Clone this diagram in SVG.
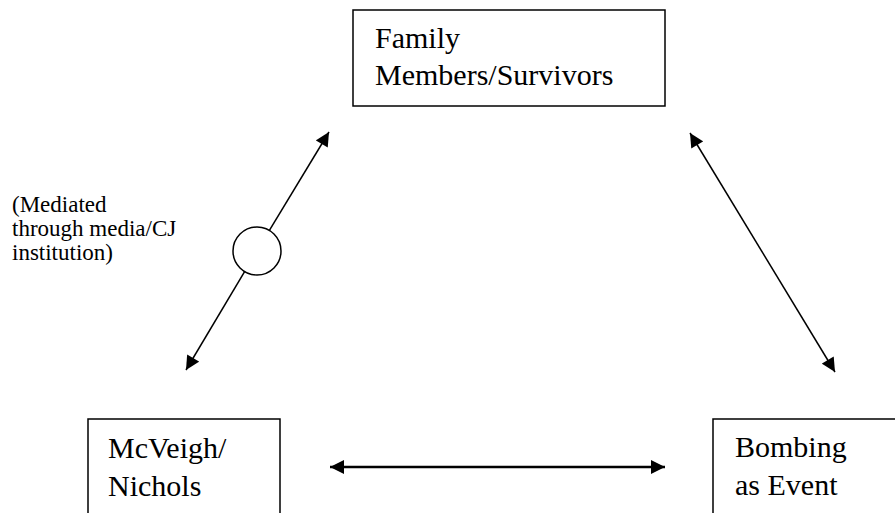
<svg xmlns="http://www.w3.org/2000/svg" width="895" height="513" viewBox="0 0 895 513">
<style>
.box{fill:#fff;stroke:#000;stroke-width:1.5}
.t{font-family:"Liberation Serif","Times New Roman",serif;font-size:30px;fill:#000}
.s{font-family:"Liberation Serif","Times New Roman",serif;font-size:23px;fill:#000}
.c{stroke:#000;stroke-width:1.5;fill:none}
</style>
<defs>
<marker id="ahb" viewBox="0 0 10 10" refX="10" refY="5" markerWidth="16" markerHeight="14" markerUnits="userSpaceOnUse" orient="auto-start-reverse">
<path d="M0,0 L10,5 L0,10 z" fill="#000"/>
</marker>
</defs>
<rect width="895" height="513" fill="#fff"/>
<g id="node-family">
<rect class="box" x="353" y="10" width="312" height="96"/>
<text class="t" x="375" y="48">Family</text>
<text class="t" x="375" y="85">Members/Survivors</text>
</g>
<g id="node-mcveigh">
<rect class="box" x="88" y="419" width="192" height="110"/>
<text class="t" x="108" y="458">McVeigh/</text>
<text class="t" x="108" y="496">Nichols</text>
</g>
<g id="node-bombing">
<rect class="box" x="713" y="419" width="200" height="110"/>
<text class="t" x="735" y="457">Bombing</text>
<text class="t" x="735" y="495">as Event</text>
</g>
<g id="note">
<text class="s" x="12" y="212">(Mediated</text>
<text class="s" x="12" y="236">through media/CJ</text>
<text class="s" x="12" y="260">institution)</text>
</g>
<g id="connectors">
<line class="c" x1="329" y1="132" x2="269.4" y2="230.4" marker-start="url(#ahb)"/>
<line class="c" x1="244.6" y1="271.6" x2="186" y2="370" marker-end="url(#ahb)"/>
<circle cx="257" cy="251" r="24" fill="#fff" stroke="#000" stroke-width="1.5"/>
<line class="c" x1="690" y1="133" x2="835" y2="372" marker-start="url(#ahb)" marker-end="url(#ahb)"/>
<line x1="330" y1="467" x2="665" y2="467" stroke="#000" stroke-width="2.5" marker-start="url(#ahb)" marker-end="url(#ahb)"/>
</g>
</svg>
